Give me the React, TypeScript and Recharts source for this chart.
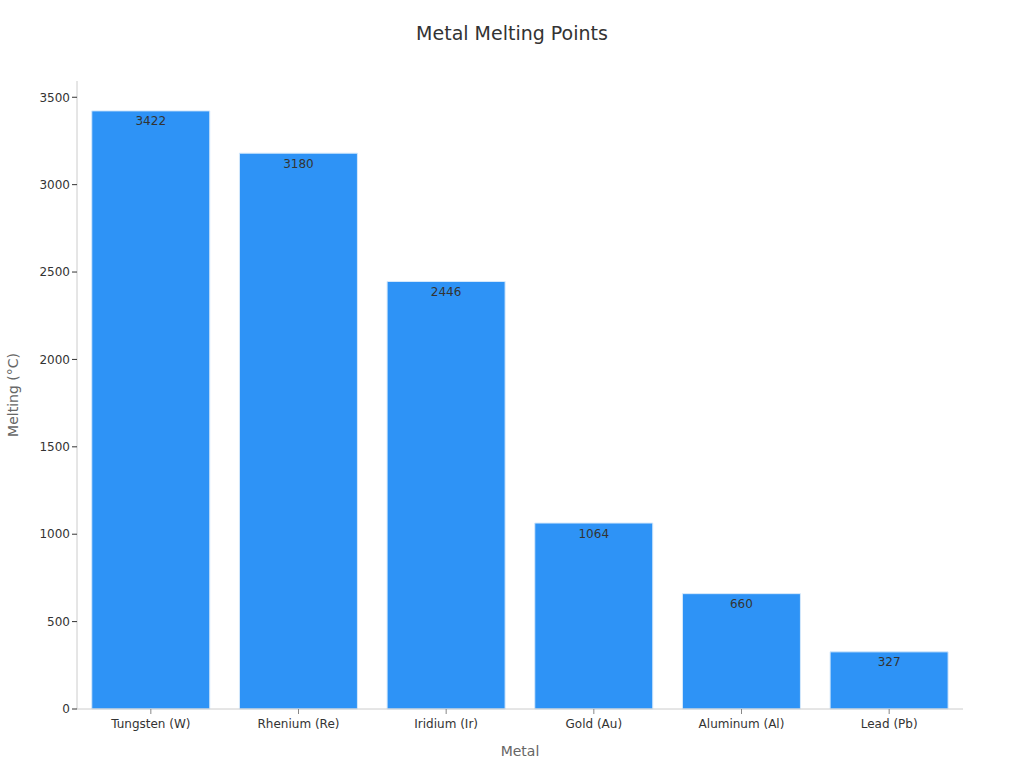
import React from 'react';
import { BarChart, Bar, XAxis, YAxis, LabelList, Label } from 'recharts';

const metals = ['Tungsten (W)', 'Rhenium (Re)', 'Iridium (Ir)', 'Gold (Au)', 'Aluminum (Al)', 'Lead (Pb)'];
const meltingPoints = [3422, 3180, 2446, 1064, 660, 327];
const yTicks = [0, 500, 1000, 1500, 2000, 2500, 3000, 3500];

const data = metals.map((name, i) => ({ name, value: meltingPoints[i] }));

const font = 'DejaVu Sans, sans-serif';

const App = () => {
  return (
    <div style={{ position: 'absolute', left: 0, top: 0, width: 1024, height: 768, fontFamily: font, background: '#fff' }}>
      <div
        style={{
          position: 'absolute',
          top: 22,
          left: 0,
          width: 1024,
          textAlign: 'center',
          fontSize: 19,
          color: '#333',
        }}
      >
        Metal Melting Points
      </div>
      <BarChart
        width={1024}
        height={768}
        data={data}
        margin={{ top: 81, right: 61, bottom: 0, left: 0 }}
        barCategoryGap="10%"
      >
        <XAxis
          dataKey="name"
          height={59}
          tick={{ fill: '#333', fontSize: 12, fontFamily: font, dy: 3 }}
          tickLine={{ stroke: '#888' }}
          axisLine={{ stroke: '#ccc' }}
          tickSize={5}
        >
          <Label value="Metal" position="insideBottom" offset={12} fill="#666" fontSize={14} fontFamily={font} />
        </XAxis>
        <YAxis
          width={77}
          domain={[0, 3593]}
          ticks={yTicks}
          tick={{ fill: '#333', fontSize: 12, fontFamily: font }}
          tickLine={{ stroke: '#333' }}
          axisLine={{ stroke: '#ccc' }}
          tickSize={5}
        >
          <Label
            value="Melting (°C)"
            angle={-90}
            position="insideLeft"
            offset={13}
            style={{ textAnchor: 'middle' }}
            fill="#666"
            fontSize={14}
            fontFamily={font}
          />
        </YAxis>
        <Bar dataKey="value" fill="#2e93f6" stroke="#d6e9fb" strokeWidth={1} isAnimationActive={false}>
          <LabelList dataKey="value" position="insideTop" offset={6} fill="#333" fontSize={12} fontFamily={font} />
        </Bar>
      </BarChart>
    </div>
  );
};

export default App;
